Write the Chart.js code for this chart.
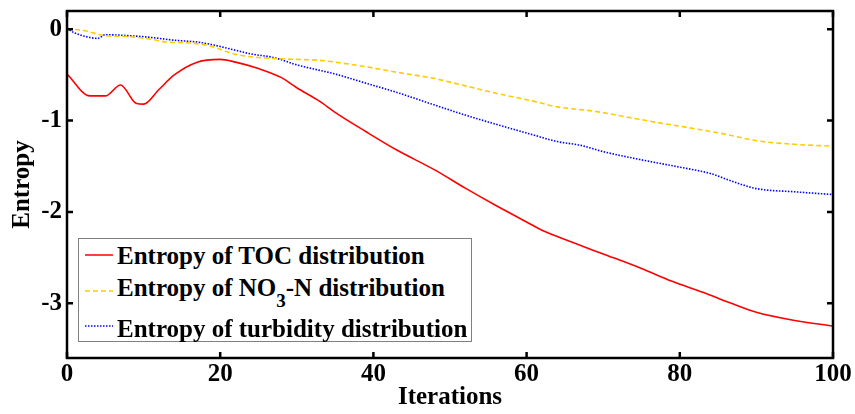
<!DOCTYPE html>
<html>
<head>
<meta charset="utf-8">
<script src="https://cdn.jsdelivr.net/npm/chart.js@4.4.0/dist/chart.umd.min.js"></script>
<style>
  html, body { margin: 0; padding: 0; background: #fff; }
  #wrap { position: relative; width: 855px; height: 414px; }
  #legend { position: absolute; left: 78px; top: 238px; width: 394px; height: 104px;
    border: 1px solid #808080; background: #fff; box-sizing: border-box;
    font-family: 'Liberation Serif', 'Times New Roman', serif; font-weight: bold; font-size: 25px; color: #000; }
  .row { position: absolute; left: 38px; height: 30px; line-height: 30px; white-space: nowrap; }
  .sw { position: absolute; left: 6px; width: 28px; height: 10px; }
  .sub { font-size: 19px; position: relative; top: 11px; line-height: 0; }
</style>
</head>
<body>
<div id="wrap">
  <canvas id="c" width="855" height="414"></canvas>
  <div id="legend"></div>
</div>
<script>
// ---- data ----
const tocX = [0, 3, 5, 7, 9, 10, 12, 14, 17, 20, 22, 25, 28, 30, 33, 35, 39, 43, 48, 52, 56, 60, 62, 64, 70, 75, 79, 83, 87, 90, 95, 100];
const tocY = [-0.49, -0.73, -0.73, -0.61, -0.81, -0.82, -0.66, -0.50, -0.36, -0.33, -0.36, -0.43, -0.53, -0.64, -0.79, -0.91, -1.12, -1.32, -1.54, -1.74, -1.93, -2.11, -2.20, -2.27, -2.46, -2.62, -2.76, -2.88, -3.01, -3.10, -3.19, -3.25];

const no3X = [0, 2, 3, 5, 8, 11, 13, 16, 19, 21, 23, 27, 30, 33, 35, 39, 43, 48, 52, 56, 61, 64, 67, 69, 73, 77, 82, 86, 90, 95, 100];
const no3Y = [0, -0.01, -0.03, -0.07, -0.08, -0.11, -0.14, -0.15, -0.19, -0.25, -0.29, -0.32, -0.33, -0.34, -0.36, -0.41, -0.47, -0.54, -0.62, -0.70, -0.79, -0.85, -0.88, -0.90, -0.96, -1.02, -1.09, -1.15, -1.22, -1.26, -1.28];

const turbX = [0, 1, 3, 4, 5, 8, 11, 14, 17, 19, 22, 24, 27, 30, 33, 35, 39, 43, 48, 52, 56, 61, 64, 67, 70, 75, 80, 84, 87, 90, 95, 100];
const turbY = [0.01, -0.04, -0.09, -0.10, -0.06, -0.07, -0.09, -0.12, -0.14, -0.17, -0.23, -0.27, -0.31, -0.39, -0.45, -0.49, -0.59, -0.69, -0.83, -0.94, -1.04, -1.16, -1.23, -1.27, -1.34, -1.43, -1.51, -1.58, -1.67, -1.745, -1.78, -1.81];

const xTicks = [0, 20, 40, 60, 80, 100];
const yTicks = [-3, -2, -1, 0];
const seriesNames = ['Entropy of TOC distribution', 'Entropy of NO3-N distribution', 'Entropy of turbidity distribution'];
// --------------------------------------

const pts = (xs, ys) => xs.map((x, i) => ({ x: x, y: ys[i] }));
const FONT = { family: "'Liberation Serif', 'Times New Roman', serif", weight: 'bold', size: 25 };

const frame = {
  id: 'frame',
  afterDatasetsDraw(chart) {
    const { ctx, chartArea: a, scales: { x, y } } = chart;
    ctx.save();
    ctx.strokeStyle = '#000';
    ctx.lineWidth = 2.5;
    ctx.strokeRect(a.left, a.top, a.right - a.left, a.bottom - a.top);
    ctx.beginPath();
    const L = 6;
    xTicks.forEach(v => {
      const px = x.getPixelForValue(v);
      ctx.moveTo(px, a.bottom); ctx.lineTo(px, a.bottom - L);
      ctx.moveTo(px, a.top); ctx.lineTo(px, a.top + L);
    });
    yTicks.forEach(v => {
      const py = y.getPixelForValue(v);
      ctx.moveTo(a.left, py); ctx.lineTo(a.left + L, py);
      ctx.moveTo(a.right, py); ctx.lineTo(a.right - L, py);
    });
    ctx.stroke();
    ctx.restore();
  }
};

const chart = new Chart(document.getElementById('c'), {
  type: 'line',
  data: {
    datasets: [
      { label: seriesNames[0], data: pts(tocX, tocY), borderColor: '#ff0000', borderWidth: 1.6, pointRadius: 0, cubicInterpolationMode: 'monotone' },
      { label: seriesNames[1], data: pts(no3X, no3Y), borderColor: '#ffcc00', borderWidth: 1.6, borderDash: [5, 3], pointRadius: 0, cubicInterpolationMode: 'monotone' },
      { label: seriesNames[2], data: pts(turbX, turbY), borderColor: '#0000ff', borderWidth: 1.6, borderDash: [1.5, 1.5], pointRadius: 0, cubicInterpolationMode: 'monotone' }
    ]
  },
  options: {
    responsive: false,
    animation: false,
    devicePixelRatio: 1,
    layout: { padding: { left: 0, right: 22, top: 11, bottom: 0 } },
    plugins: { legend: { display: false }, tooltip: { enabled: false } },
    scales: {
      x: {
        type: 'linear', min: 0, max: 100,
        afterBuildTicks: s => { s.ticks = xTicks.map(v => ({ value: v })); },
        afterFit: s => { s.height = 56; s.paddingLeft = 0; s.paddingRight = 0; },
        grid: { display: false, drawTicks: false },
        border: { display: false },
        ticks: { color: '#000', font: FONT, padding: 2, maxRotation: 0 },
        title: { display: true, text: 'Iterations', color: '#000', font: FONT, padding: { top: 0, bottom: 1 } }
      },
      y: {
        type: 'linear', min: -3.6, max: 0.2,
        afterBuildTicks: s => { s.ticks = yTicks.map(v => ({ value: v })); },
        afterFit: s => { s.width = 67; s.paddingTop = 0; s.paddingBottom = 0; },
        grid: { display: false, drawTicks: false },
        border: { display: false },
        ticks: { color: '#000', font: FONT, padding: 5 },
        title: { display: true, text: 'Entropy', color: '#000', font: FONT, padding: { top: 8, bottom: 0 } }
      }
    }
  },
  plugins: [frame]
});

// legend (HTML, so the subscript can be real text)
const lg = document.getElementById('legend');
const rows = [
  { top: 2, html: 'Entropy of TOC distribution', stroke: '#ff0000', dash: '' , ly: 16 },
  { top: 34, html: 'Entropy of NO<span class="sub">3</span>-N distribution', stroke: '#ffcc00', dash: '5,3', ly: 52 },
  { top: 75, html: 'Entropy of turbidity distribution', stroke: '#0000ff', dash: '1.5,1.5', ly: 87 }
];
rows.forEach(r => {
  const d = document.createElement('div');
  d.className = 'row';
  d.style.top = r.top + 'px';
  d.innerHTML = r.html;
  lg.appendChild(d);
  const svg = document.createElementNS('http://www.w3.org/2000/svg', 'svg');
  svg.setAttribute('class', 'sw');
  svg.setAttribute('width', '28'); svg.setAttribute('height', '10');
  svg.style.top = (r.ly - 5) + 'px';
  const ln = document.createElementNS('http://www.w3.org/2000/svg', 'line');
  ln.setAttribute('x1', '0'); ln.setAttribute('x2', '28');
  ln.setAttribute('y1', '5'); ln.setAttribute('y2', '5');
  ln.setAttribute('stroke', r.stroke); ln.setAttribute('stroke-width', '1.5');
  if (r.dash) ln.setAttribute('stroke-dasharray', r.dash);
  svg.appendChild(ln);
  lg.appendChild(svg);
});
</script>
</body>
</html>
